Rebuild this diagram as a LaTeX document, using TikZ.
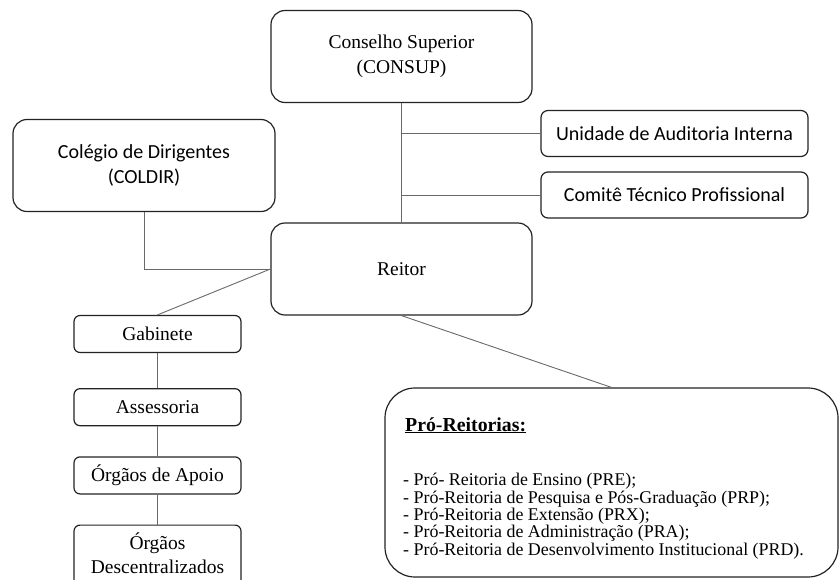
\documentclass[tikz,border=0pt]{standalone}
\usepackage{fontspec}
\setmainfont{Liberation Serif}
\newfontfamily\calibrifont{Carlito}
\usetikzlibrary{positioning}
\definecolor{boxline}{RGB}{35,35,35}
\definecolor{linkgray}{RGB}{105,105,105}
\tikzset{
  bigbox/.style={draw=boxline, rounded corners=14pt, line width=1.2pt,
    minimum width=261pt, minimum height=92pt, align=center,
    font=\fontsize{19.5}{25}\selectfont},
  sidebox/.style={draw=boxline, rounded corners=7pt, line width=1.2pt,
    minimum width=267pt, minimum height=46pt, align=center,
    font=\calibrifont\fontsize{20}{24}\selectfont},
  unitbox/.style={draw=boxline, rounded corners=6pt, line width=1.2pt,
    minimum width=167pt, minimum height=37pt, align=center,
    font=\fontsize{19.5}{24}\selectfont},
  listbox/.style={draw=boxline, rounded corners=30pt, line width=1.2pt,
    minimum width=453pt, minimum height=189pt},
  listtext/.style={align=left, inner sep=0pt, font=\fontsize{17.9}{17.3}\selectfont},
  link/.style={draw=linkgray, line width=0.9pt}
}

\begin{document}
\begin{tikzpicture}[x=1pt, y=-1pt, node distance=30pt]
\useasboundingbox (0,0) rectangle (839,579);
\clip (0,0) rectangle (839,579);
% top of the chart
\node[bigbox] (consup) at (401.5,56.5) {Conselho Superior\\(CONSUP)};
\node[bigbox] (reitor) at (401.5,269) {Reitor};
\node[bigbox, font=\calibrifont\fontsize{20}{25}\selectfont, minimum width=262pt]
  (coldir) at (144,165.5) {Colégio de Dirigentes\\(COLDIR)};
\node[sidebox] (audit) at (674.5,133.5) {Unidade de Auditoria Interna};
\node[sidebox] (comite) at (674.5,195) {Comitê Técnico Profissional};

% left column
\node[unitbox] (gab) at (157.5,334) {Gabinete};
\node[unitbox, below=35pt of gab] (assess) {Assessoria};
\node[unitbox, below=of assess] (apoio) {Órgãos de Apoio};
\node[unitbox, below=of apoio, minimum height=70pt, text depth=14pt] (descent) {Órgãos\\Descentralizados};

% pro-reitorias
\node[listbox] (proreit) at (611.5,482.5) {};
\node[listtext, anchor=base west] (protitle) at (405,431)
  {\fontsize{19.8}{20}\selectfont\underline{\textbf{Pró-Reitorias:}}};
\node[listtext, anchor=base west] (prolist) at (403,555)
  {- Pró- Reitoria de Ensino (PRE);\\
   - Pró-Reitoria de Pesquisa e Pós-Graduação (PRP);\\
   - Pró-Reitoria de Extensão (PRX);\\
   - Pró-Reitoria de Administração (PRA);\\
   - Pró-Reitoria de Desenvolvimento Institucional (PRD).};

\draw[link] (consup) -- (reitor);
\draw[link] (consup.south |- audit.west) -- (audit.west);
\draw[link] (consup.south |- comite.west) -- (comite.west);
\draw[link] (coldir.south) |- (reitor.west);
\draw[link] (reitor.west) -- (gab.north);
\draw[link] (gab) -- (assess);
\draw[link] (assess) -- (apoio);
\draw[link] (apoio) -- (descent);
\draw[link] (reitor.south) -- (proreit.north);
\end{tikzpicture}
\end{document}
